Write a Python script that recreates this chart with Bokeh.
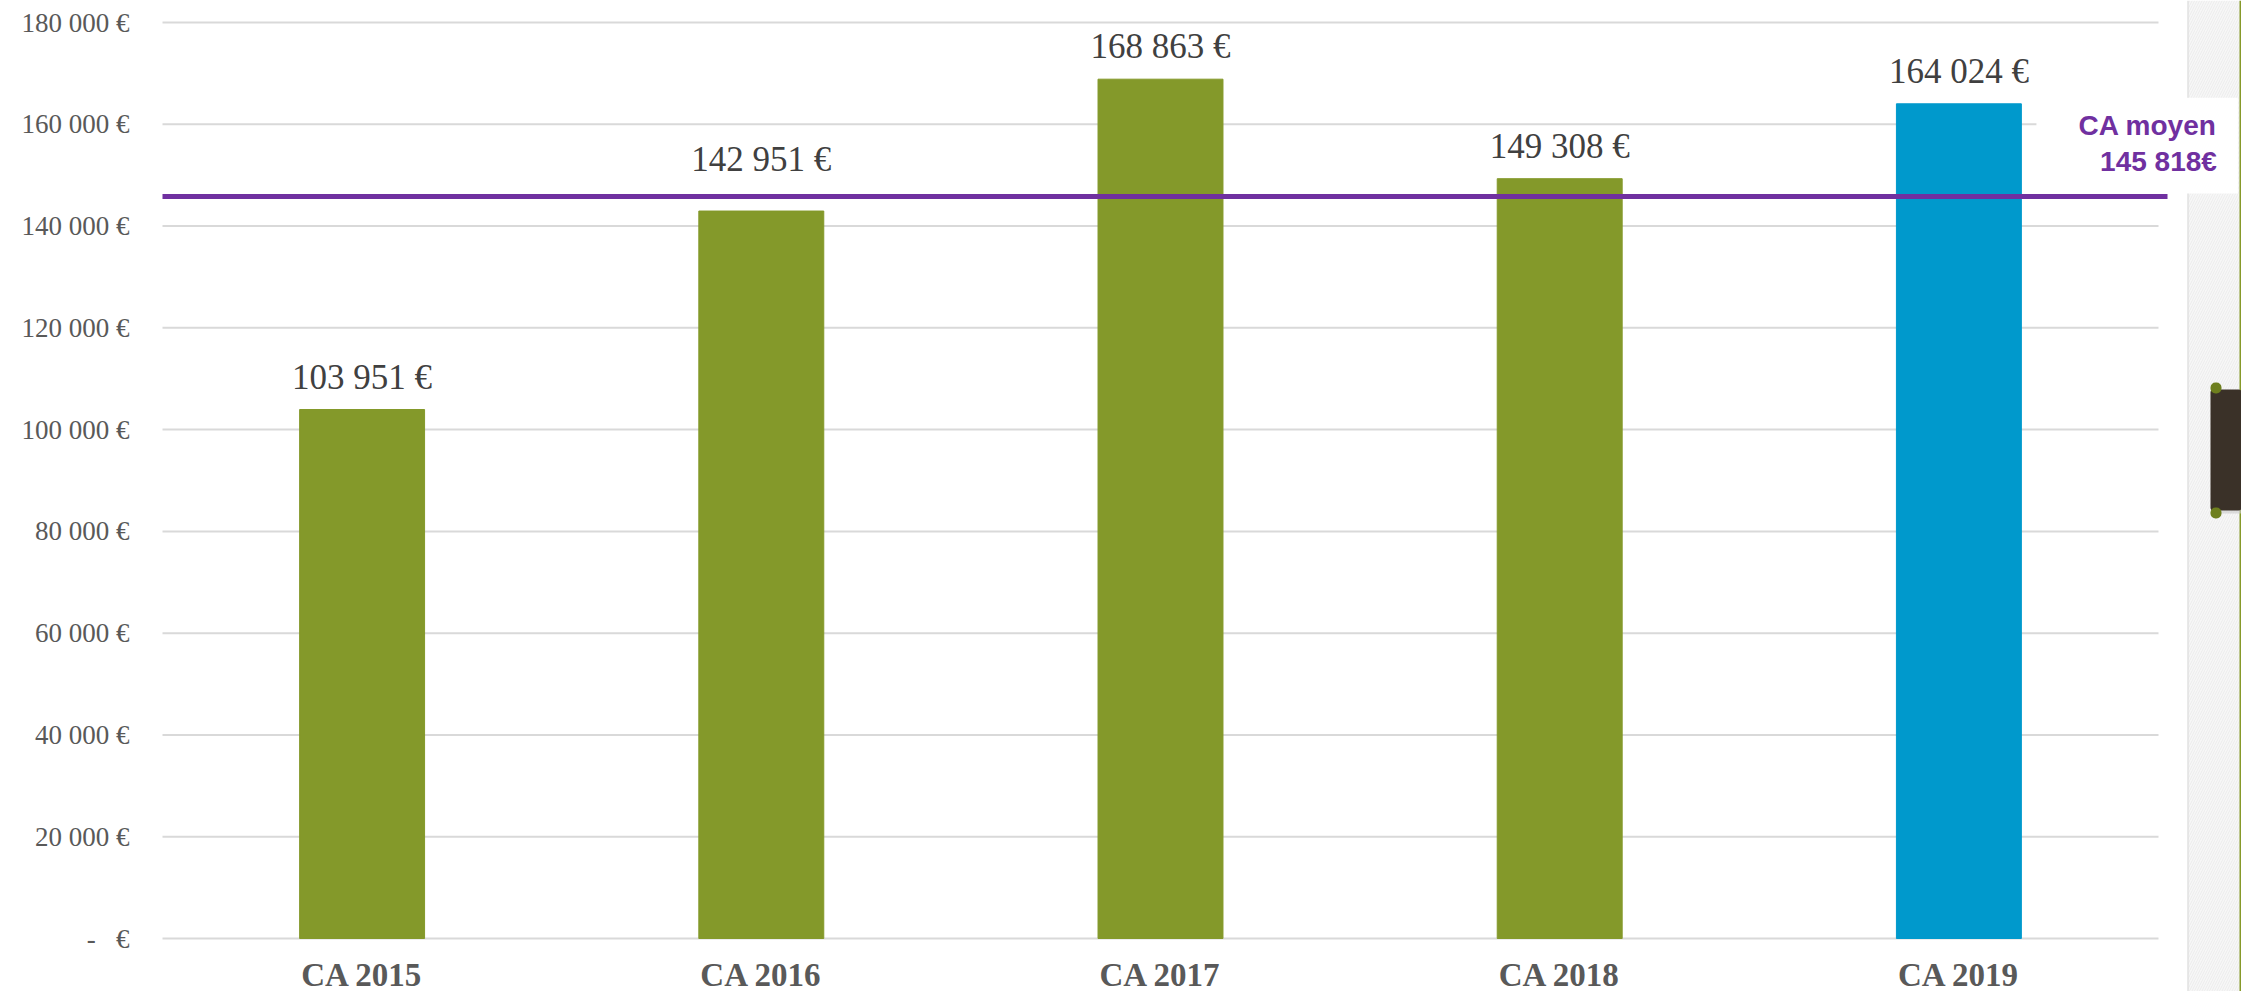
from bokeh.plotting import figure
from bokeh.models import (ColumnDataSource, FactorRange, Range1d, FixedTicker,
                          LabelSet, Label, BoxAnnotation)
from bokeh.core.properties import value
from bokeh.embed import file_html
from bokeh.resources import INLINE

# ---- data ----
categories = ["CA 2015", "CA 2016", "CA 2017", "CA 2018", "CA 2019"]
revenues = [103951, 142951, 168863, 149308, 164024]
bar_colors = ["#84992A", "#84992A", "#84992A", "#84992A", "#0099CC"]
mean_revenue = 145818
mean_label = "CA moyen\n145\u00a0818€"
y_ticks = [0, 20000, 40000, 60000, 80000, 100000, 120000, 140000, 160000, 180000]


def eur(v):
    return f"{v:,}".replace(",", "\u00a0") + "\u00a0€"


value_labels = [eur(v) for v in revenues]
tick_labels = {t: (eur(t) if t else "-\u00a0\u00a0\u00a0€") for t in y_ticks}

# ---- layout / style (pixels) ----
W, H = 2241, 991
PLOT_LEFT, PLOT_RIGHT = 162, 2158        # extent of the category area
TOP_PX, ZERO_PX = 22, 938                # pixel rows of y=180000 and y=0
label_lift = [21, 40, 21, 21, 21]        # value-label gap above each bar (px)
Y_MAX = y_ticks[-1]
n = len(categories)
cat_px = (PLOT_RIGHT - PLOT_LEFT) / n
pad_units = (W - PLOT_RIGHT) / cat_px     # extra room to the right (symmetric)
px_per_val = (ZERO_PX - TOP_PX) / Y_MAX
frame_left = int(round(PLOT_LEFT - pad_units * cat_px))

x_range = FactorRange(*categories, range_padding=2 * pad_units / n)
y_range = Range1d(-(H - ZERO_PX) / px_per_val, Y_MAX + TOP_PX / px_per_val)

src = ColumnDataSource(dict(cat=categories, val=revenues, color=bar_colors,
                            lab=value_labels, zero=[0] * n, lift=label_lift))
grid_src = ColumnDataSource(dict(y=y_ticks, x0=[0] * len(y_ticks),
                                 x1=[n] * len(y_ticks)))

p = figure(x_range=x_range, y_range=y_range, width=W, height=H,
           output_backend="svg", toolbar_location=None, x_axis_location=None,
           min_border_left=frame_left, min_border_right=0, min_border_top=0,
           min_border_bottom=0)
p.outline_line_color = None
p.background_fill_color = "white"
p.border_fill_color = "white"
p.xgrid.visible = False
p.ygrid.visible = False


# decorative right strip
def canvas_box(l, r, t, b, **kw):
    kw.setdefault("fill_alpha", 1)
    return BoxAnnotation(left=l, right=r, top=t, bottom=b,
                         left_units="canvas", right_units="canvas",
                         top_units="canvas", bottom_units="canvas",
                         line_color=None, **kw)


p.add_layout(canvas_box(2188, W, 0, H, fill_color="#f7f7f7",
                        hatch_pattern="/", hatch_color="#ececec",
                        hatch_scale=5, hatch_weight=1))
p.add_layout(canvas_box(2187, 2188, 0, H, fill_color="#d4d4d4"))
p.add_layout(canvas_box(2239, W, 0, H, fill_color="#86992A"))
p.add_layout(canvas_box(2212, W, 392, 513, fill_color="#c9c9c9",
                        fill_alpha=0.6))
p.add_layout(canvas_box(2210, W, 389, 510, fill_color="#3A3128",
                        border_radius=3))
p.add_layout(canvas_box(2210, 2221, 382, 393, fill_color="#6E7F1E",
                        border_radius=5))
p.add_layout(canvas_box(2210, 2221, 507, 518, fill_color="#6E7F1E",
                        border_radius=5))

# gridlines over the category area only
p.segment(x0="x0", x1="x1", y0="y", y1="y", source=grid_src,
          line_color="#d9d9d9", line_width=2)

p.vbar(x="cat", top="val", width=0.313, color="color", source=src)

p.add_layout(LabelSet(x="cat", y="val", text="lab", source=src,
                      y_offset="lift", text_align="center",
                      text_baseline="alphabetic",
                      text_font=value("Liberation Serif"), text_font_size="35px",
                      text_color="#404040"))
p.add_layout(LabelSet(x="cat", y="zero", text="cat", source=src, y_offset=-47,
                      text_align="center", text_baseline="alphabetic",
                      text_font=value("Liberation Serif"), text_font_style="bold",
                      text_font_size="33px", text_color="#595959"))

# mean label (white box) and mean line
p.add_layout(Label(x=n - 0.5, y=mean_revenue, x_offset=279, y_offset=3,
                   text=mean_label, text_align="right", text_baseline="bottom",
                   text_font="Liberation Sans", text_font_style="bold",
                   text_font_size="28px", text_color="#7030A0",
                   text_line_height=1.18,
                   background_fill_color="white", background_fill_alpha=1,
                   padding=dict(left=42, right=21, top=12, bottom=16)))
p.segment(x0=[0], x1=[n + 9 / cat_px], y0=[mean_revenue], y1=[mean_revenue],
          line_color="#7030A0", line_width=5, level="overlay")

ya = p.yaxis[0]
ya.ticker = FixedTicker(ticks=y_ticks)
ya.major_label_overrides = tick_labels
ya.axis_line_color = None
ya.major_tick_line_color = None
ya.minor_tick_line_color = None
ya.major_tick_out = 0
ya.major_tick_in = 0
ya.major_label_standoff = -(129 - frame_left)
ya.major_label_text_font = "Liberation Serif"
ya.major_label_text_font_size = "27px"
ya.major_label_text_color = "#595959"

open("out.html", "w").write(file_html(p, INLINE))
